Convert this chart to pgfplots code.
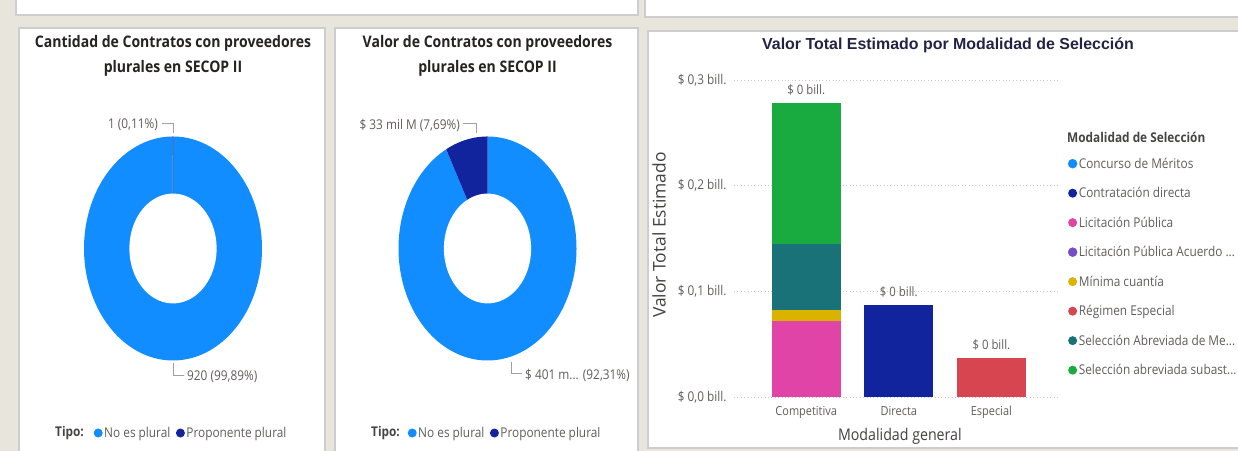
\documentclass[border=0pt]{standalone}
\usepackage{pgfplots}
\pgfplotsset{compat=1.18}
\usepackage{fontspec}
\setmainfont{Open Sans}[FakeStretch=0.88]
\newfontfamily\titlefont{Open Sans}[FakeStretch=0.88]
\newfontfamily\ylabfont{Open Sans}
\newfontfamily\charttitlefont{Liberation Sans}

\definecolor{bg}{HTML}{E7E5DC}
\definecolor{panelborder}{HTML}{CDCDCD}
\definecolor{pbBlue}{HTML}{118DFF}
\definecolor{pbNavy}{HTML}{12239E}
\definecolor{pbPink}{HTML}{E044A7}
\definecolor{pbPurple}{HTML}{744EC2}
\definecolor{pbYellow}{HTML}{D9B300}
\definecolor{pbRed}{HTML}{D64550}
\definecolor{pbTeal}{HTML}{197278}
\definecolor{pbGreen}{HTML}{1AAB40}
\definecolor{txtgray}{HTML}{605E5C}
\definecolor{txtdark}{HTML}{252423}
\definecolor{titlenavy}{HTML}{232345}
\definecolor{leadergray}{HTML}{A0A0A0}
\definecolor{gridgray}{HTML}{C8C8C8}

\pgfplotsset{
  dot/.style={legend image code/.code={\fill[#1] (4.5bp,0bp) circle (4.5bp);}},
  donut/.style={hide axis, scale only axis, width=178bp, height=224bp,
     xmin=-1, xmax=1, ymin=-1, ymax=1, clip=false, anchor=south west,
     legend columns=-1,
     legend style={draw=none, fill=none, anchor=west, inner sep=0pt,
        font=\fontsize{13.5}{15}\selectfont, text=txtgray,
        nodes={inner sep=1.5bp},
        /tikz/every even column/.append style={column sep=4bp}}},
}
\newcommand\ringIn{0.49}

% Cantidad de contratos
\def\cantNo{920}
\def\cantSi{1}
% Valor de contratos (mil M)
\def\valNo{401}
\def\valSi{33.4}
\pgfmathsetmacro\angCantNo{360*(\cantNo/(\cantNo+\cantSi))}
\pgfmathsetmacro\angCantSi{360*(\cantSi/(\cantNo+\cantSi))}
\pgfmathsetmacro\angValNo{360*(\valNo/(\valNo+\valSi))}
\pgfmathsetmacro\angValSi{360*(\valSi/(\valNo+\valSi))}

\begin{document}
\begin{tikzpicture}[x=1bp,y=1bp]
\fill[bg] (0,0) rectangle (1238,451);
% panels
\filldraw[fill=white, draw=panelborder, line width=1.2bp] (16,436) rectangle (638,470);
\filldraw[fill=white, draw=panelborder, line width=1.2bp] (645,434) rectangle (1260,470);
\filldraw[fill=white, draw=panelborder, line width=1.2bp] (19,-5) rectangle (325,423);
\filldraw[fill=white, draw=panelborder, line width=1.2bp] (335,-5) rectangle (638,423);
\filldraw[fill=white, draw=panelborder, line width=1.2bp] (648,3) rectangle (1260,420);

% titles
\node[align=center, text=txtdark, font=\titlefont\bfseries\fontsize{16}{25}\selectfont] at (173,395.5) {Cantidad de Contratos con proveedores\\plurales en SECOP II};
\node[align=center, text=txtdark, font=\titlefont\bfseries\fontsize{16}{25}\selectfont] at (487.5,395.5) {Valor de Contratos con proveedores\\plurales en SECOP II};
\node[text=titlenavy, font=\charttitlefont\bfseries\fontsize{16}{19}\selectfont] at (948,406) {Valor Total Estimado por Modalidad de Selección};

% donut 1
\begin{axis}[donut, at={(84bp,90.5bp)}, legend style={at={(rel axis cs:0.0535,-0.3237)}}]
\addplot[fill=pbBlue, draw=none, domain={90-\angCantNo}:90, samples=240, variable=\t, dot=pbBlue] ({cos(\t)},{sin(\t)}) -- (axis cs:0,0) -- cycle;
\addlegendentry{No es plural}
\addplot[fill=pbNavy!70!gray, draw=none, domain=90:{90+\angCantSi}, samples=10, variable=\t, dot=pbNavy] ({cos(\t)},{sin(\t)}) -- (axis cs:0,0) -- cycle;
\addlegendentry{Proponente plural}
\addplot[fill=white, draw=none, domain=0:360, samples=240, variable=\t, forget plot] ({\ringIn*cos(\t)},{\ringIn*sin(\t)}) -- cycle;
\end{axis}

% donut 2
\begin{axis}[donut, at={(398.5bp,90.5bp)}, legend style={at={(rel axis cs:0.0507,-0.3237)}}]
\addplot[fill=pbBlue, draw=none, domain={90-\angValNo}:90, samples=240, variable=\t, dot=pbBlue] ({cos(\t)},{sin(\t)}) -- (axis cs:0,0) -- cycle;
\addlegendentry{No es plural}
\addplot[fill=pbNavy, draw=none, domain=90:{90+\angValSi}, samples=40, variable=\t, dot=pbNavy] ({cos(\t)},{sin(\t)}) -- (axis cs:0,0) -- cycle;
\addlegendentry{Proponente plural}
\addplot[fill=white, draw=none, domain=0:360, samples=240, variable=\t, forget plot] ({\ringIn*cos(\t)},{\ringIn*sin(\t)}) -- cycle;
\end{axis}

% donut labels and leaders
\begin{scope}[leadergray, line width=0.8bp]
\draw (162,328) -- (173,328) -- (173,318);
\draw (173,88) -- (173,76) -- (184,76);
\draw (463,328) -- (476,328) -- (476,318);
\draw (511,89) -- (511,78) -- (522,78);
\end{scope}
\begin{scope}[every node/.style={text=txtgray, inner sep=0pt, font=\fontsize{13.5}{15}\selectfont}]
\node[anchor=east] at (158,326) {1 (0,11\%)};
\node[anchor=west] at (187,74) {920 (99,89\%)};
\node[anchor=east] at (460,326) {\$ 33 mil M (7,69\%)};
\node[anchor=west] at (525,76) {\$ 401 m... (92,31\%)};
\end{scope}
\node[anchor=west, inner sep=0pt, text=txtdark!85, font=\bfseries\fontsize{13.5}{15}\selectfont] at (55,18) {Tipo:};
\node[anchor=west, inner sep=0pt, text=txtdark!85, font=\bfseries\fontsize{13.5}{15}\selectfont] at (371,18) {Tipo:};

% bar chart
\begin{axis}[
  at={(734bp,54bp)}, anchor=south west, scale only axis, width=324bp, height=317bp,
  ybar stacked, bar width=69bp,
  xmin=-0.78, xmax=2.72, ymin=0, ymax=0.3,
  xtick={0,1,2}, xticklabels={Competitiva,Directa,Especial},
  ytick={0,0.1,0.2,0.3}, scaled y ticks=false,
  yticklabels={{\$ 0,0 bill.},{\$ 0,1 bill.},{\$ 0,2 bill.},{\$ 0,3 bill.}},
  ymajorgrids, grid style={gridgray, line width=0.9bp, dash pattern=on 1bp off 2.4bp},
  axis line style={draw=none}, major tick length=0pt,
  tick label style={text=txtgray},
  xticklabel style={yshift=-6bp, font=\fontsize{12.5}{14}\selectfont},
  yticklabel style={xshift=-4bp, font=\fontsize{13.5}{15}\selectfont},
  xlabel={Modalidad general}, ylabel={Valor Total Estimado},
  xlabel style={at={(axis description cs:0.512,-0.123)}, anchor=center, font=\fontsize{16.2}{18}\selectfont, text=txtgray!70!black},
  ylabel style={at={(axis description cs:-0.231,0.511)}, anchor=center, font=\ylabfont\fontsize{17.5}{19}\selectfont, text=txtgray!70!black},
  legend style={at={(rel axis cs:1.030,0.760)}, anchor=north west, draw=none, fill=none, inner sep=0pt,
     font=\fontsize{13.5}{15}\selectfont, text=txtgray, row sep=14.7bp,
     nodes={inner sep=1.5bp}},
  legend cell align=left,
  clip=false,
]
\addlegendimage{dot=pbBlue}
\addlegendentry{Concurso de Méritos}
\addplot[fill=pbNavy, draw=none, dot=pbNavy] coordinates {(0,0) (1,0.087) (2,0)};
\addlegendentry{Contratación directa}
\addplot[fill=pbPink, draw=none, dot=pbPink] coordinates {(0,0.072) (1,0) (2,0)};
\addlegendentry{Licitación Pública}
\addlegendimage{dot=pbPurple}
\addlegendentry{Licitación Pública Acuerdo ...}
\addplot[fill=pbYellow, draw=none, dot=pbYellow] coordinates {(0,0.010) (1,0) (2,0)};
\addlegendentry{Mínima cuantía}
\addplot[fill=pbRed, draw=none, dot=pbRed] coordinates {(0,0) (1,0) (2,0.0369)};
\addlegendentry{Régimen Especial}
\addplot[fill=pbTeal, draw=none, dot=pbTeal] coordinates {(0,0.0627) (1,0) (2,0)};
\addlegendentry{Selección Abreviada de Me...}
\addplot[fill=pbGreen, draw=none, dot=pbGreen] coordinates {(0,0.1338) (1,0) (2,0)};
\addlegendentry{Selección abreviada subast...}
\end{axis}

% totals labels (overlay axis, same geometry)
\begin{axis}[
  at={(734bp,54bp)}, anchor=south west, scale only axis, width=324bp, height=317bp,
  hide axis, ybar, bar width=69bp, clip=false,
  xmin=-0.78, xmax=2.72, ymin=0, ymax=0.3,
]
\addplot[draw=none, fill=none, point meta=y, nodes near coords={\$ 0 bill.},
  every node near coord/.append style={text=txtgray, font=\fontsize{13}{15}\selectfont, anchor=south, yshift=4bp}]
  coordinates {(0,0.2785) (1,0.087) (2,0.0369)};
\end{axis}
\node[anchor=west, inner sep=0pt, text=txtdark!85, font=\bfseries\fontsize{13.5}{15}\selectfont] at (1067,314) {Modalidad de Selección};
\pgfresetboundingbox
\useasboundingbox (0,0) rectangle (1238,451);
\end{tikzpicture}
\end{document}
